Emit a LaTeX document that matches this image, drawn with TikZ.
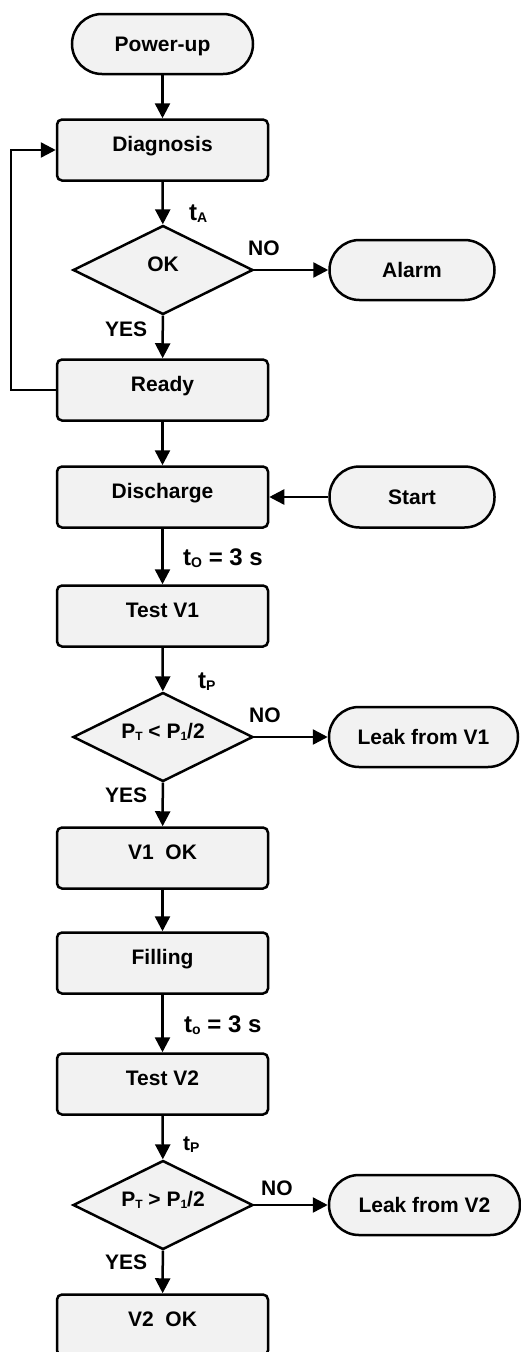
\documentclass[tikz,border=0pt]{standalone}
\usepackage{fontspec}
\setmainfont{Liberation Sans}
\usepackage{xcolor}
\definecolor{BoxFill}{RGB}{242,242,242}
\usepackage{tikz}
\usetikzlibrary{shapes.geometric}
\usetikzlibrary{arrows.meta}
\newcommand{\FlowFont}{\fontsize{21}{25}\selectfont\bfseries}
\newcommand{\TimeFont}{\fontsize{24}{28}\selectfont\bfseries}
\newcommand{\SubT}[2]{{\fontsize{#1}{#1}\selectfont\raisebox{-2pt}{#2}}}
\tikzstyle{Box}=[rectangle,draw=black,fill=BoxFill,rounded corners=5pt,
line width=2.5pt,minimum width=211pt,minimum height=61pt,inner sep=0pt,
text height=15pt,text depth=12pt,font=\FlowFont]
\tikzstyle{Term}=[rectangle,draw=black,fill=BoxFill,rounded corners=30pt,
line width=2.5pt,minimum height=60pt,inner sep=0pt,
text height=15pt,text depth=0pt,font=\FlowFont]
\tikzstyle{Decision}=[diamond,aspect=2,draw=black,fill=BoxFill,
line width=2.5pt,minimum width=180pt,minimum height=89pt,inner sep=0pt,
text height=15pt,text depth=12pt,font=\FlowFont]
\tikzstyle{Edge}=[draw=black,line width=2.5pt,
-{Triangle[length=15pt,width=15pt]}]
\tikzstyle{NodeLbl}=[anchor=base west,inner sep=0pt,font=\FlowFont]
\tikzstyle{TimeLbl}=[anchor=base west,inner sep=0pt,font=\TimeFont]

\begin{document}
\begin{tikzpicture}[x=1pt,y=1pt]
            \useasboundingbox(0,0)rectangle(520,-1352);
            % main column
            \node[Term,minimum width=181pt](PowerUp)at(162.5,-44){Power-up};
            \node[Box](Diagnosis)at(162.5,-150){Diagnosis};
            \node[Decision](OK)at(163,-270){OK};
            \node[Box](Ready)at(162.5,-390){Ready};
            \node[Box](Discharge)at(162.5,-497){Discharge};
            \node[Box](TestA)at(162.5,-616){Test V1};
            \node[Decision](CheckA)at(163,-737)
                {P\SubT{12}{T} < P\SubT{12}{1}/2};
            \node[Box](OKA)at(162.5,-858){V1~~OK};
            \node[Box](Filling)at(162.5,-963){Filling};
            \node[Box](TestB)at(162.5,-1084){Test V2};
            \node[Decision](CheckB)at(163,-1205)
                {P\SubT{12}{T} > P\SubT{12}{1}/2};
            \node[Box](OKB)at(162.5,-1325){V2~~OK};
            % side column
            \node[Term,minimum width=165pt](Alarm)at(412,-270){Alarm};
            \node[Term,minimum width=165pt,minimum height=61pt](Start)
                at(412,-497){Start};
            \node[Term,minimum width=189pt](LeakA)at(423.5,-737)
                {Leak from V1};
            \node[Term,minimum width=191pt](LeakB)at(424.5,-1205)
                {Leak from V2};
            % labels
            \node[TimeLbl](tA)at(189,-220){t\SubT{14}{A}};
            \node[NodeLbl](noA)at(248,-255){NO};
            \node[NodeLbl](yesA)at(105,-336){YES};
            \node[TimeLbl](tOA)at(183,-565){t\SubT{14}{O} = 3 s};
            \node[TimeLbl](tPA)at(198,-688){t\SubT{14}{P}};
            \node[NodeLbl](noB)at(249,-722){NO};
            \node[NodeLbl](yesB)at(105,-802){YES};
            \node[TimeLbl](tOB)at(184,-1032){t\SubT{14}{o} = 3 s};
            \node[NodeLbl](tPB)at(183,-1150){t\SubT{14}{P}};
            \node[NodeLbl](noC)at(261,-1195){NO};
            \node[NodeLbl](yesC)at(105,-1269){YES};
            % connectors
            \draw[Edge](PowerUp)--(Diagnosis);
            \draw[Edge](Diagnosis)--(OK);
            \draw[Edge](OK)--(Alarm);
            \draw[Edge](OK)--(Ready);
            \draw[Edge](Ready.west)--++(-45,0)|-(Diagnosis.west);
            \draw[Edge](Ready)--(Discharge);
            \draw[Edge](Start)--(Discharge);
            \draw[Edge](Discharge)--(TestA);
            \draw[Edge](TestA)--(CheckA);
            \draw[Edge](CheckA)--(LeakA);
            \draw[Edge](CheckA)--(OKA);
            \draw[Edge](OKA)--(Filling);
            \draw[Edge](Filling)--(TestB);
            \draw[Edge](TestB)--(CheckB);
            \draw[Edge](CheckB)--(LeakB);
            \draw[Edge](CheckB)--(OKB);
        \end{tikzpicture}
\end{document}
